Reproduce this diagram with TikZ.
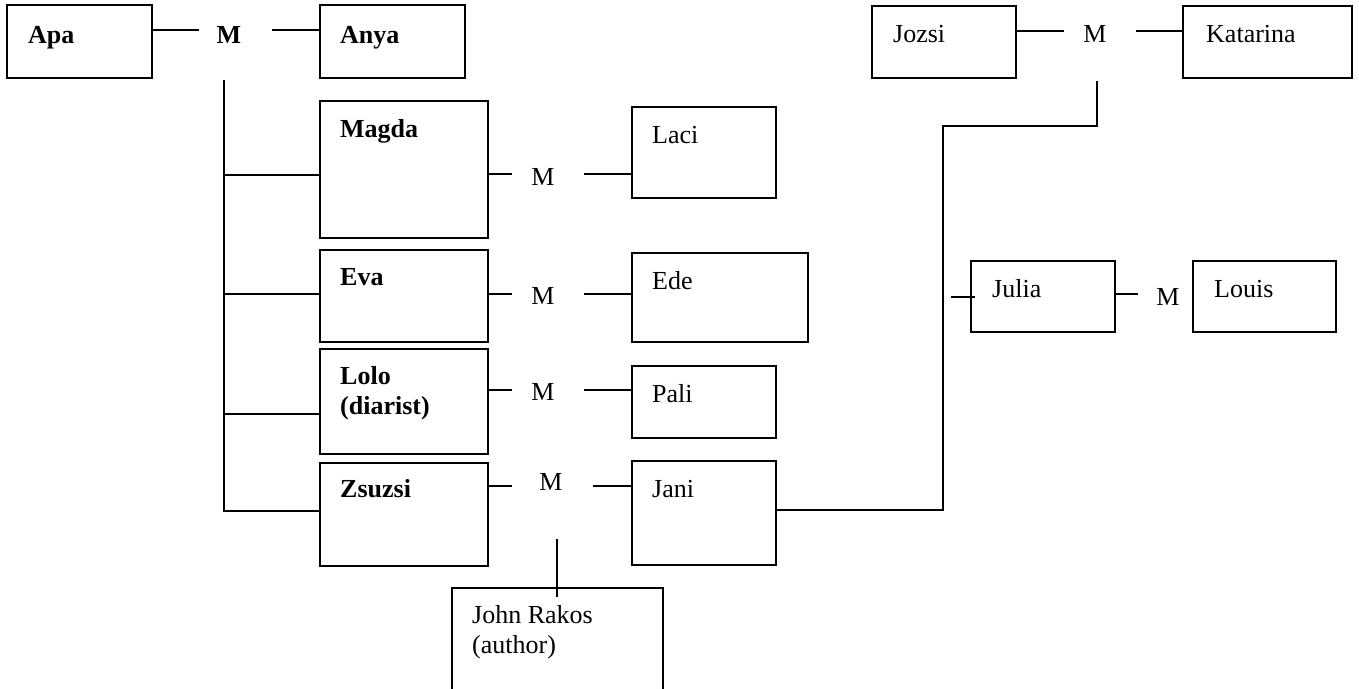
\documentclass[tikz,border=0pt]{standalone}
\usepackage{fontspec}
\setmainfont{Liberation Serif}
\begin{document}
\begin{tikzpicture}[x=1pt,y=1pt,
  box/.style={draw,line width=1.8pt,anchor=north west,inner sep=0pt,outer sep=0pt},
  txt/.style={anchor=base west,inner sep=0pt,font=\fontsize{26}{30}\selectfont,align=left},
  btxt/.style={txt,font=\fontsize{26}{30}\selectfont\bfseries},
  mtxt/.style={anchor=base,inner sep=0pt,font=\fontsize{26}{30}\selectfont},
  ln/.style={line width=1.8pt}]
\useasboundingbox (0,0) rectangle (1359,-688);
% boxes
\node[box,minimum width=145,minimum height=73] (apa) at (7,-5) {};
\node[box,minimum width=145,minimum height=73] (anya) at (320,-5) {};
\node[box,minimum width=168,minimum height=137] (magda) at (320,-101) {};
\node[box,minimum width=168,minimum height=92] (eva) at (320,-250) {};
\node[box,minimum width=168,minimum height=105] (lolo) at (320,-349) {};
\node[box,minimum width=168,minimum height=103] (zsuzsi) at (320,-463) {};
\node[box,minimum width=144,minimum height=91] (laci) at (632,-107) {};
\node[box,minimum width=176,minimum height=89] (ede) at (632,-253) {};
\node[box,minimum width=144,minimum height=72] (pali) at (632,-366) {};
\node[box,minimum width=144,minimum height=104] (jani) at (632,-461) {};
\node[box,minimum width=211,minimum height=112] (john) at (452,-588) {};
\node[box,minimum width=144,minimum height=72] (jozsi) at (872,-6) {};
\node[box,minimum width=169,minimum height=72] (katarina) at (1183,-6) {};
\node[box,minimum width=144,minimum height=71] (julia) at (971,-261) {};
\node[box,minimum width=143,minimum height=71] (louis) at (1193,-261) {};
% texts
\node[btxt] (tapa) at (28,-43) {Apa};
\node[btxt] (tanya) at (340,-43) {Anya};
\node[btxt] (tmagda) at (340,-137) {Magda};
\node[btxt] (teva) at (340,-285) {Eva};
\node[btxt] (tlolo) at (340,-414) {Lolo\\(diarist)};
\node[btxt] (tzsuzsi) at (340,-497) {Zsuzsi};
\node[txt] (tlaci) at (652,-143) {Laci};
\node[txt] (tede) at (652,-289) {Ede};
\node[txt] (tpali) at (652,-402) {Pali};
\node[txt] (tjani) at (652,-497) {Jani};
\node[txt] (tjohn) at (472,-653) {John Rakos\\(author)};
\node[txt] (tjozsi) at (893,-42) {Jozsi};
\node[txt] (tkatarina) at (1206,-42) {Katarina};
\node[txt] (tjulia) at (992,-297) {Julia};
\node[txt] (tlouis) at (1214,-297) {Louis};
% marriage marks
\node[mtxt,font=\fontsize{26}{30}\selectfont\bfseries] (m1) at (229,-43) {M};
\node[mtxt] (m2) at (543,-185) {M};
\node[mtxt] (m3) at (543,-304) {M};
\node[mtxt] (m4) at (543,-400) {M};
\node[mtxt] (m5) at (551,-490) {M};
\node[mtxt] (m6) at (1095,-42) {M};
\node[mtxt] (m7) at (1168,-305) {M};
% connector end points
\coordinate (a1) at (199,-30);
\coordinate (a2) at (272,-30);
\coordinate (t0) at (224,-80);
\coordinate (t1) at (224,-175);
\coordinate (t2) at (224,-294);
\coordinate (t3) at (224,-414);
\coordinate (t4) at (224,-511);
\coordinate (b2l) at (512,-174);
\coordinate (b2r) at (584,-174);
\coordinate (b3l) at (512,-294);
\coordinate (b3r) at (584,-294);
\coordinate (b4l) at (512,-390);
\coordinate (b4r) at (584,-390);
\coordinate (b5l) at (512,-486);
\coordinate (b5r) at (593,-486);
\coordinate (d5a) at (557,-539);
\coordinate (d5b) at (557,-597);
\coordinate (j6l) at (1064,-31);
\coordinate (j6r) at (1136,-31);
\coordinate (j6d) at (1097,-81);
\coordinate (jc) at (1097,-126);
\coordinate (jt) at (943,-126);
\coordinate (jb) at (943,-510);
\coordinate (tk) at (951,-297);
\coordinate (m7l) at (1138,-294);
% connectors
\draw[ln] (apa.east |- a1) -- (a1);
\draw[ln] (a2) -- (anya.west |- a2);
\draw[ln] (t0) -- (t4) -- (zsuzsi.west |- t4);
\draw[ln] (t1) -- (magda.west |- t1);
\draw[ln] (t2) -- (eva.west |- t2);
\draw[ln] (t3) -- (lolo.west |- t3);
\draw[ln] (magda.east |- b2l) -- (b2l);
\draw[ln] (b2r) -- (laci.west |- b2r);
\draw[ln] (eva.east |- b3l) -- (b3l);
\draw[ln] (b3r) -- (ede.west |- b3r);
\draw[ln] (lolo.east |- b4l) -- (b4l);
\draw[ln] (b4r) -- (pali.west |- b4r);
\draw[ln] (zsuzsi.east |- b5l) -- (b5l);
\draw[ln] (b5r) -- (jani.west |- b5r);
\draw[ln] (d5a) -- (d5b);
\draw[ln] (jani.east |- jb) -- (jb) -- (jt) -- (jc) -- (j6d);
\draw[ln] (jozsi.east |- j6l) -- (j6l);
\draw[ln] (j6r) -- (katarina.west |- j6r);
\draw[ln] (tk) -- (julia.west |- tk) -- ++(4,0);
\draw[ln] (julia.east |- m7l) -- (m7l);
\end{tikzpicture}
\end{document}
